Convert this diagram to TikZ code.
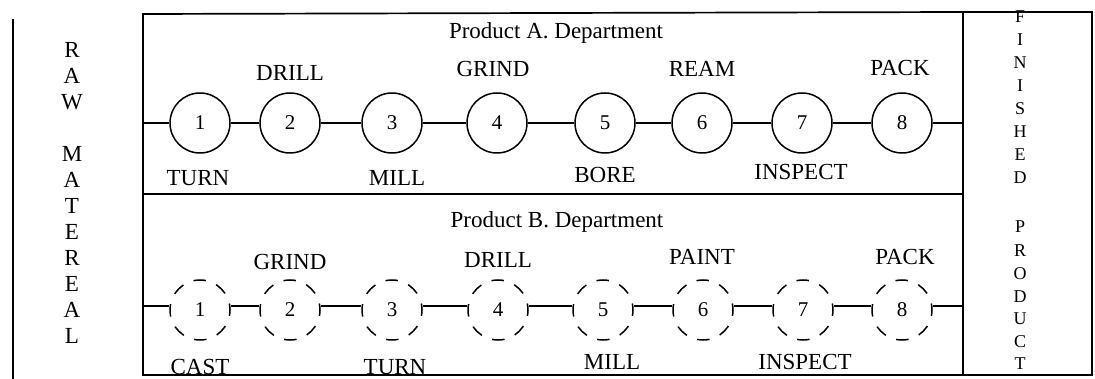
\documentclass[tikz,border=0pt]{standalone}
\usepackage{fontspec}
\setmainfont{Liberation Serif}
\begin{document}
\begin{tikzpicture}[x=1pt,y=-1pt,
  frame/.style={line width=1.7pt, line cap=rect},
  stn/.style={circle, draw, line width=1.5pt, minimum size=60pt, inner sep=0pt, font=\fontsize{21}{21}\selectfont},
  dstn/.style={stn, dash pattern=on 12.5pt off 11.06pt, dash phase=6pt},
  link/.style={line width=1.6pt},
  lbl/.style={inner sep=0pt, font=\fontsize{23}{23}\selectfont},
  ttl/.style={inner sep=0pt, font=\fontsize{23}{23}\selectfont},
  vlet/.style={inner sep=0pt, font=\fontsize{23}{23}\selectfont},
  vlet2/.style={inner sep=0pt, font=\fontsize{18}{18}\selectfont}]
\useasboundingbox (0,0) rectangle (1095,379);
% frame
\coordinate (lt) at (13,20); \coordinate (lb) at (13,379);
\draw[frame] (lt) -- (lb);
\coordinate (tl) at (143,14); \coordinate (bl) at (143,375);
\coordinate (tr) at (1092,12); \coordinate (br) at (1092,375);
\coordinate (mt) at (963,12); \coordinate (mb) at (963,375);
\coordinate (ml) at (143,194); \coordinate (mr) at (963,194);
\draw[frame] (bl) -- (tl) -- (mt) -- (tr) -- (br) -- (bl);
\draw[frame] (mt) -- (mb);
\draw[frame] (ml) -- (mr);
% titles
\node[ttl] (tA) at (556,33) {Product A. Department};
\node[ttl] (tB) at (557,222) {Product B. Department};
% row A
\foreach \i/\x in {1/200,2/290,3/392,4/497,5/605,6/702,7/802,8/902}
  \node[stn] (a\i) at (\x,123) {\i};
\coordinate (aL) at (143,123); \coordinate (aR) at (963,123);
\draw[link] (aL) -- (a1);
\foreach \i [evaluate=\i as \j using int(\i+1)] in {1,...,7}
  \draw[link] (a\i) -- (a\j);
\draw[link] (a8) -- (aR);
% row B
\foreach \i/\x in {1/200,2/290,3/392,4/498,5/603,6/703,7/803,8/902}
  \node[dstn] (b\i) at (\x,310) {\i};
\coordinate (bL) at (143,306); \coordinate (bR) at (963,306);
\draw[link] (bL) -- (b1.west |- bL);
\foreach \i [evaluate=\i as \j using int(\i+1)] in {1,...,7}
  \draw[link] (b\i.east |- bL) -- (b\j.west |- bL);
\draw[link] (b8.east |- bR) -- (bR);
% row A labels
\node[lbl] (la2) at (290,73) {DRILL};
\node[lbl] (la4) at (493,69) {GRIND};
\node[lbl] (la6) at (702,69) {REAM};
\node[lbl] (la8) at (900,68) {PACK};
\node[lbl] (la1) at (198,178) {TURN};
\node[lbl] (la3) at (397,178) {MILL};
\node[lbl] (la5) at (605,175) {BORE};
\node[lbl] (la7) at (801,172) {INSPECT};
% row B labels
\node[lbl] (lb2) at (290,262) {GRIND};
\node[lbl] (lb4) at (498,260) {DRILL};
\node[lbl] (lb6) at (702,257) {PAINT};
\node[lbl] (lb8) at (905,257) {PACK};
\node[lbl] (lb1) at (200,367) {CAST};
\node[lbl] (lb3) at (395,367) {TURN};
\node[lbl] (lb5) at (612,362) {MILL};
\node[lbl] (lb7) at (805,362) {INSPECT};
% left vertical text
\foreach \l/\y [count=\k] in {R/50,A/76,W/102,M/154,A/180,T/206,E/232,R/258,E/284,A/310,L/336}
  \node[vlet] (raw\k) at (72,\y) {\l};
% right vertical text
\foreach \l/\y [count=\k] in {F/17,I/40,N/63,I/86,S/109,H/132,E/155,D/178,P/227,R/251,O/274,D/297,U/319,C/342,T/364}
  \node[vlet2] (fin\k) at (1020,\y) {\l};
\end{tikzpicture}
\end{document}
